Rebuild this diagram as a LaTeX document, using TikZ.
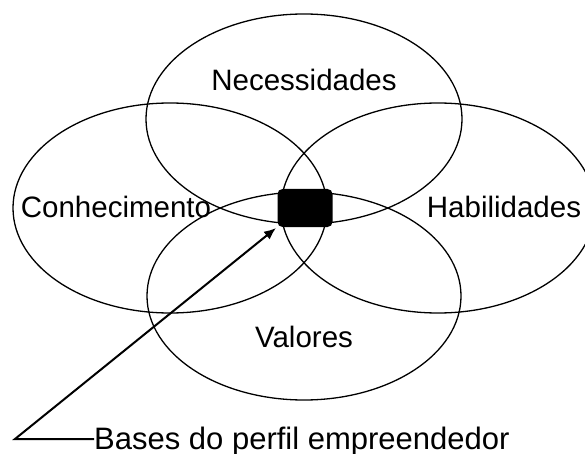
\documentclass[tikz,border=0pt]{standalone}
\usepackage{fontspec}
\setmainfont{Liberation Sans}
\usetikzlibrary{arrows.meta}
\begin{document}
\begin{tikzpicture}[x=1pt,y=-1pt,
  ring/.style={draw=black,line width=1.3pt},
  lbl/.style={anchor=base,inner sep=0pt,font=\fontsize{29.5}{34}\selectfont},
  pointer/.style={draw=black,line width=2pt}]
\useasboundingbox (0,0) rectangle (585,454);
\begin{scope}
\clip (0,0) rectangle (585,454);
\draw[ring] (304,119) ellipse [x radius=158, y radius=105];
\draw[ring] (170,208) ellipse [x radius=157, y radius=105];
\draw[ring] (438,208) ellipse [x radius=157, y radius=105];
\draw[ring] (304,296) ellipse [x radius=157, y radius=104];
\end{scope}
\node[fill=black,rounded corners=5pt,minimum width=55pt,minimum height=38pt,inner sep=0pt] (blob) at (305,208) {};
\node[lbl] (nec) at (304,91) {Necessidades};
\node[lbl] (con) at (116,217) {Conhecimento};
\node[lbl] (hab) at (504,217) {Habilidades};
\node[lbl] (val) at (304,347) {Valores};
\node[anchor=base west,inner sep=0pt,font=\fontsize{31}{36}\selectfont] (bases) at (94,449) {Bases do perfil empreendedor};
\coordinate (corner) at (15,439);
\coordinate (tip) at (276,228);
\draw[pointer,-{Latex[length=12pt,width=10pt]}] (bases.west |- corner) -- (corner) -- (tip);
\end{tikzpicture}
\end{document}
